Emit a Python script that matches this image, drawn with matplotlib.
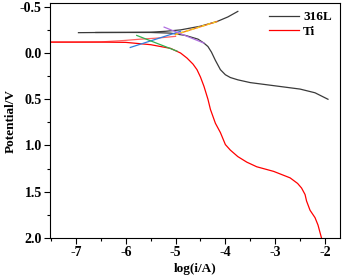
import matplotlib
matplotlib.use("Agg")
import matplotlib.pyplot as plt
from matplotlib.ticker import MultipleLocator

plt.rcParams['font.family'] = ['Liberation Serif', 'DejaVu Serif']
plt.rcParams['font.weight'] = 'bold'

# 316L curves (log i, potential)
ss_cat_x = [-6.95, -6.5, -6.0, -5.5, -5.2, -4.9, -4.5, -4.17, -3.95, -3.75]
ss_cat_y = [-0.22, -0.222, -0.223, -0.225, -0.235, -0.25, -0.29, -0.34, -0.39, -0.45]
ss_an_x = [-6.6, -6.0, -5.5, -5.1, -4.8, -4.55, -4.43, -4.35, -4.28, -4.2, -4.1,
           -4.0, -3.9, -3.75, -3.5, -3.0, -2.5, -2.2, -1.94]
ss_an_y = [-0.222, -0.222, -0.222, -0.215, -0.19, -0.15, -0.107, -0.07, -0.01,
           0.08, 0.18, 0.235, 0.265, 0.29, 0.32, 0.355, 0.39, 0.43, 0.5]

# Ti curves
ti_cat_x = [-7.6, -7.0, -6.5, -6.04, -5.7, -5.4, -5.2, -5.0]
ti_cat_y = [-0.118, -0.118, -0.12, -0.135, -0.15, -0.16, -0.17, -0.18]
ti_an_x = [-7.6, -6.5, -6.0, -5.5, -5.1, -4.9, -4.77, -4.65, -4.57, -4.5, -4.43,
           -4.35, -4.3, -4.2, -4.1, -4.0, -3.9, -3.75, -3.57, -3.37, -3.03, -2.7,
           -2.55, -2.47, -2.4, -2.37, -2.3, -2.2, -2.14, -2.07]
ti_an_y = [-0.118, -0.118, -0.115, -0.09, -0.05, 0.0, 0.055, 0.12, 0.18, 0.26,
           0.36, 0.5, 0.61, 0.76, 0.86, 0.99, 1.05, 1.12, 1.18, 1.23, 1.28, 1.35,
           1.41, 1.46, 1.53, 1.6, 1.7, 1.78, 1.86, 2.0]

# Tafel fit lines
blue_x, blue_y = [-5.91, -4.9], [-0.06, -0.235]
orange_x, orange_y = [-5.0, -4.17], [-0.2, -0.34]
green_x, green_y = [-5.78, -4.97], [-0.19, -0.02]
purple_x, purple_y = [-5.23, -4.43], [-0.28, -0.107]

fig = plt.figure(figsize=(3.43, 2.79), dpi=100)
ax = fig.add_axes([0.146, 0.147, 0.845, 0.842])

ax.plot(ss_cat_x, ss_cat_y, color='#3a3a3a', lw=0.9, label='316L')
ax.plot(ss_an_x, ss_an_y, color='#3a3a3a', lw=0.9)
ax.plot(ti_cat_x, ti_cat_y, color='#ff6060', lw=0.9)
ax.plot(ti_an_x, ti_an_y, color='red', lw=0.9, label='Ti')

ax.plot(blue_x, blue_y, color='#2f7fe0', lw=0.9)
ax.plot(orange_x, orange_y, color='#f08020', lw=1.0)
ax.plot(orange_x, orange_y, color='#f8d020', lw=1.0, ls=(0, (2, 2)))
ax.plot(green_x, green_y, color='#30b050', lw=0.9)
ax.plot(purple_x, purple_y, color='#b070e0', lw=0.9)

ax.set_xlim(-7.52, -1.7)
ax.set_ylim(2.0, -0.54)
ax.xaxis.set_major_locator(MultipleLocator(1))
ax.xaxis.set_minor_locator(MultipleLocator(0.5))
ax.yaxis.set_major_locator(MultipleLocator(0.5))
ax.yaxis.set_minor_locator(MultipleLocator(0.25))
ax.tick_params(which='major', length=4, width=0.8, labelsize=10, pad=2)
ax.tick_params(which='minor', length=2, width=0.8)
ax.set_yticks([-0.5, 0.0, 0.5, 1.0, 1.5, 2.0])
ax.set_yticklabels(['-0.5', '0.0', '0.5', '1.0', '1.5', '2.0'])
ax.set_xticks([-7, -6, -5, -4, -3, -2])
ax.set_xticklabels(['-7', '-6', '-5', '-4', '-3', '-2'])
for s in ax.spines.values():
    s.set_linewidth(0.8)

ax.set_xlabel('log(i/A)', fontsize=9.5, fontweight='bold', labelpad=3)
ax.set_ylabel('Potential/V', fontsize=9.5, fontweight='bold', labelpad=2)

ax.legend(loc='upper right', frameon=False, fontsize=9.5, handlelength=2.3,
          handletextpad=0.3, labelspacing=0.2, borderaxespad=0.2,
          bbox_to_anchor=(1.0, 1.0))

fig.savefig('out.png', dpi=100)
